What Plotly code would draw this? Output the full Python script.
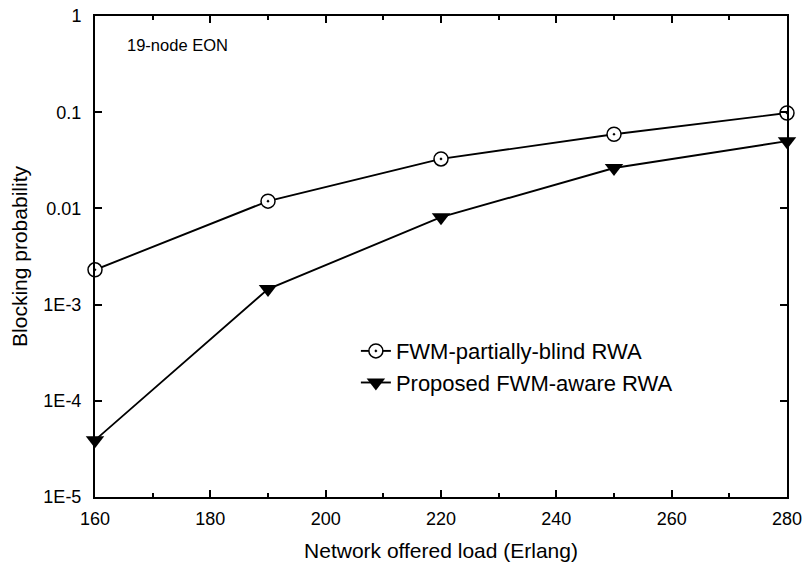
import plotly.graph_objects as go

load = [160, 190, 220, 250, 280]
blind = [2.3e-3, 0.0119, 0.0327, 0.059, 0.098]
aware = [3.9e-5, 1.45e-3, 8.1e-3, 0.0263, 0.050]

ytick_vals = [1, 0.1, 0.01, 1e-3, 1e-4, 1e-5]
ytick_text = ["1", "0.1", "0.01", "1E-3", "1E-4", "1E-5"]
xtick_vals = [160, 180, 200, 220, 240, 260, 280]

font_family = "Liberation Sans, Arial, sans-serif"

fig = go.Figure()
fig.add_trace(go.Scatter(
    x=load, y=blind, mode="lines+markers", name="FWM-partially-blind RWA",
    line=dict(color="black", width=1.9),
    marker=dict(symbol="circle-dot", size=14, color="white",
                line=dict(color="black", width=1.5)),
    cliponaxis=False,
))
fig.add_trace(go.Scatter(
    x=load, y=aware, mode="lines+markers", name="Proposed FWM-aware RWA",
    line=dict(color="black", width=1.9),
    marker=dict(symbol="triangle-down", size=16, color="black",
                line=dict(color="black", width=0)),
    cliponaxis=False,
))

axis_common = dict(
    showline=True, linecolor="black", linewidth=2, mirror="ticks",
    ticks="inside", tickcolor="black", tickwidth=1.5, ticklen=7,
    showgrid=False, zeroline=False, automargin=False,
    tickfont=dict(family=font_family, size=18, color="black"),
)

fig.update_xaxes(
    range=[160, 280], tickvals=xtick_vals, ticklabelstandoff=4,
    minor=dict(ticks="inside", ticklen=4, tickcolor="black", dtick=10, tick0=160),
    title=dict(text="Network offered load (Erlang)",
               font=dict(family=font_family, size=21, color="black"), standoff=16),
    **axis_common,
)
fig.update_yaxes(
    type="log", range=[-5, 0], tickvals=ytick_vals, ticktext=ytick_text,
    ticklabelstandoff=8,
    title=dict(text="Blocking probability",
               font=dict(family=font_family, size=21, color="black"), standoff=10),
    **axis_common,
)

fig.add_annotation(
    text="19-node EON", xref="paper", yref="paper", x=0.043, y=0.94,
    xanchor="left", yanchor="middle", showarrow=False,
    font=dict(family=font_family, size=16.5, color="black"),
)

fig.update_layout(
    width=804, height=567,
    margin=dict(l=95, r=17, t=16, b=70),
    plot_bgcolor="white", paper_bgcolor="white",
    legend=dict(x=0.377, y=0.347, xanchor="left", yanchor="top",
                bgcolor="rgba(0,0,0,0)",
                font=dict(family=font_family, size=22, color="black")),
    font=dict(family=font_family, color="black"),
)

fig.write_html("out.html")
